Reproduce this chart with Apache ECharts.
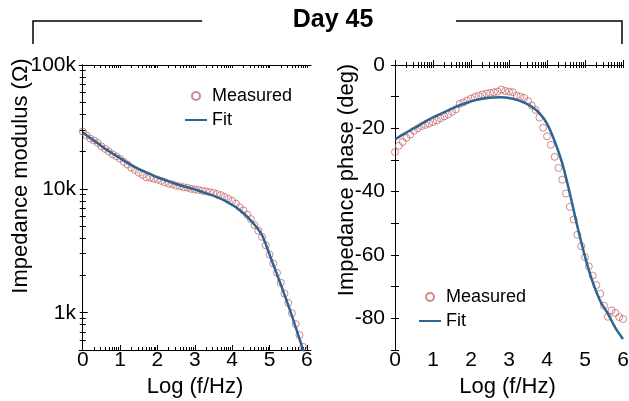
<!DOCTYPE html>
<html>
<head>
<meta charset="utf-8">
<title>Day 45</title>
<script src="https://cdn.jsdelivr.net/npm/echarts@6/dist/echarts.min.js"></script>
<style>
  html, body { margin: 0; padding: 0; background: #fff; }
  #chart { width: 629px; height: 401px; }
</style>
</head>
<body>
<div id="chart"></div>
<script>
// log10 of frequency for the measured points (1 Hz .. 1 MHz, 10 per decade)
const logFreqMeasured = [
  0.0, 0.1, 0.2, 0.3, 0.4, 0.5, 0.6, 0.7, 0.8, 0.9,
  1.0, 1.1, 1.2, 1.3, 1.4, 1.5, 1.6, 1.7, 1.8, 1.9,
  2.0, 2.1, 2.2, 2.3, 2.4, 2.5, 2.6, 2.7, 2.8, 2.9,
  3.0, 3.1, 3.2, 3.3, 3.4, 3.5, 3.6, 3.7, 3.8, 3.9,
  4.0, 4.1, 4.2, 4.3, 4.4, 4.5, 4.6, 4.7, 4.8, 4.9,
  5.0, 5.1, 5.2, 5.3, 5.4, 5.5, 5.6, 5.7, 5.8, 5.9, 6.0
];
// |Z| in ohm, measured
const modulusMeasured = [
  29000, 27000, 25500, 24600, 23500, 22000, 21000, 20000, 19000, 18300,
  17500, 16500, 15700, 14800, 14200, 13500, 13000, 12400, 12300, 12100,
  11900, 11600, 11300, 11000, 10900, 10600, 10500, 10300, 10200, 10000,
  9900, 9800, 9650, 9550, 9400, 9300, 9100, 8900, 8600, 8300,
  8000, 7600, 7100, 6700, 6200, 5700, 5100, 4600, 4100, 3500,
  2950, 2500, 2100, 1750, 1430, 1200, 990, 810, 660, 530, 430
];
// phase in degrees, measured
const phaseMeasured = [
  -27.5, -25.5, -24.3, -23.0, -22.0, -20.8, -20.0, -19.3, -18.9, -18.5,
  -18.0, -17.5, -16.8, -16.2, -15.6, -14.8, -14.0, -12.3, -11.8, -11.2,
  -10.6, -10.1, -9.7, -9.3, -9.0, -8.8, -8.6, -8.4, -7.8, -8.2,
  -8.4, -8.6, -9.6, -10.0, -10.4, -11.4, -12.8, -14.2, -16.6, -19.8,
  -22.5, -25.2, -29.0, -32.5, -36.2, -40.6, -44.8, -48.8, -53.6, -57.2,
  -60.7, -63.6, -66.5, -69.5, -72.2, -76.0, -79.5, -77.5, -78.3, -79.6, -80.2
];

// fitted model, sampled every 0.2 decade
const logFreqFit = [
  0.0, 0.2, 0.4, 0.6, 0.8, 1.0, 1.2, 1.4, 1.6, 1.8,
  2.0, 2.2, 2.4, 2.6, 2.8, 3.0, 3.2, 3.4, 3.6, 3.8,
  4.0, 4.2, 4.4, 4.6, 4.8, 5.0, 5.2, 5.4, 5.6, 5.8, 6.0
];
const modulusFit = [
  28500, 25700, 23400, 21100, 19300, 17700, 16200, 15000, 14000, 13200,
  12400, 11800, 11200, 10700, 10300, 9900, 9440, 9020, 8550, 8040,
  7410, 6760, 5960, 5130, 4220, 2950, 2040, 1400, 944, 617, 398
];
const phaseFit = [
  -23.5, -22.0, -20.6, -19.3, -17.8, -16.5, -15.4, -14.3, -13.2, -12.3,
  -11.5, -10.9, -10.5, -10.3, -10.2, -10.4, -11.0, -11.9, -13.2, -15.2,
  -18.5, -24.0, -31.0, -40.5, -51.0, -60.5, -68.5, -74.5, -78.5, -83.0, -86.5
];

// axis ticks
const xMajorTicks = [0, 1, 2, 3, 4, 5, 6];
const modulusLabels = [1000, 10000, 100000];
const modulusMinorTicks = [
  600, 700, 800, 900,
  2000, 3000, 4000, 5000, 6000, 7000, 8000, 9000,
  20000, 30000, 40000, 50000, 60000, 70000, 80000, 90000
];

const xMinorTicks = [];
for (let d = 0; d < 6; d++) {
  for (let k = 2; k <= 9; k++) xMinorTicks.push(d + Math.log10(k));
}

const font = 'Liberation Sans, Arial, sans-serif';
const measuredColor = '#c46a6a';
const fitColor = '#2d6491';
const black = '#000';
const tickFontSize = 21;

function xAxesFor(gridIndex, min, max) {
  return [
    {
      type: 'value', gridIndex, min, max, position: 'bottom',
      axisLine: { lineStyle: { color: black, width: 1 } },
      axisTick: { inside: true, length: 5, customValues: xMajorTicks, lineStyle: { color: black } },
      axisLabel: { customValues: xMajorTicks, fontSize: tickFontSize, color: black, fontFamily: font, margin: 0 },
      splitLine: { show: false },
      name: 'Log (f/Hz)', nameLocation: 'middle', nameGap: 20,
      nameTextStyle: { fontSize: 22, color: black, fontFamily: font }
    },
    {
      type: 'value', gridIndex, min, max, position: 'bottom',
      axisLine: { show: false },
      axisTick: { inside: true, length: 3, customValues: xMinorTicks, lineStyle: { color: black } },
      axisLabel: { show: false },
      splitLine: { show: false }
    },
    {
      type: 'value', gridIndex, min, max, position: 'top',
      axisLine: { lineStyle: { color: black, width: 1 } },
      axisTick: { inside: true, length: 3, customValues: xMajorTicks.concat(xMinorTicks), lineStyle: { color: black } },
      axisLabel: { show: false },
      splitLine: { show: false }
    }
  ];
}

const chart = echarts.init(document.getElementById('chart'));

chart.setOption({
  animation: false,
  backgroundColor: '#fff',
  textStyle: { fontFamily: font },
  grid: [
    { left: 79, top: 65, width: 232, height: 285, outerBoundsMode: 'none' },
    { left: 392, top: 65, width: 231, height: 285, outerBoundsMode: 'none' }
  ],
  xAxis: xAxesFor(0, -0.1, 6.11).concat(xAxesFor(1, -0.08, 6)),
  yAxis: [
    {
      type: 'log', gridIndex: 0, min: 500, max: 100000, position: 'left',
      axisLine: { lineStyle: { color: black, width: 1 } },
      axisTick: { inside: true, length: 5, customValues: modulusLabels, lineStyle: { color: black } },
      axisLabel: {
        customValues: modulusLabels, fontSize: tickFontSize, color: black, fontFamily: font, margin: 3,
        formatter: v => (v >= 1000 ? (v / 1000) + 'k' : String(v))
      },
      splitLine: { show: false }
    },
    {
      type: 'log', gridIndex: 0, min: 500, max: 100000, position: 'left',
      axisLine: { show: false },
      axisTick: { inside: true, length: 3, customValues: modulusMinorTicks, lineStyle: { color: black } },
      axisLabel: { show: false },
      splitLine: { show: false }
    },
    {
      type: 'log', gridIndex: 0, min: 500, max: 100000, position: 'right',
      axisLine: { lineStyle: { color: black, width: 1 } },
      axisTick: { inside: true, length: 3, customValues: modulusLabels.concat(modulusMinorTicks), lineStyle: { color: black } },
      axisLabel: { show: false },
      splitLine: { show: false }
    },
    {
      type: 'value', gridIndex: 1, min: -90, max: 0, interval: 10, position: 'left',
      axisLine: { lineStyle: { color: black, width: 1 } },
      axisTick: { inside: true, length: 4, lineStyle: { color: black } },
      axisLabel: {
        fontSize: tickFontSize, color: black, fontFamily: font, margin: 7,
        formatter: v => (v % 20 === 0 ? String(v) : '')
      },
      splitLine: { show: false }
    },
    {
      type: 'value', gridIndex: 1, min: -90, max: 0, interval: 10, position: 'right',
      axisLine: { lineStyle: { color: black, width: 1 } },
      axisTick: { inside: true, length: 4, lineStyle: { color: black } },
      axisLabel: { show: false },
      splitLine: { show: false }
    }
  ],
  legend: [
    {
      left: 184, top: 87, orient: 'vertical', padding: 0,
      itemWidth: 22, itemHeight: 8, itemGap: 6, selectedMode: false,
      textStyle: { fontSize: 18, color: black, fontFamily: font },
      data: ['Measured', { name: 'Fit', itemStyle: { opacity: 0 } }]
    },
    {
      left: 418, top: 288, orient: 'vertical', padding: 0,
      itemWidth: 22, itemHeight: 8, itemGap: 6, selectedMode: false,
      textStyle: { fontSize: 18, color: black, fontFamily: font },
      data: ['Measured', { name: 'Fit', itemStyle: { opacity: 0 } }]
    }
  ],
  graphic: [
    {
      type: 'text', x: 333, y: 20,
      style: { text: 'Day 45', font: 'bold 25px ' + font, fill: black, align: 'center', verticalAlign: 'middle' }
    },
    {
      type: 'polyline', shape: { points: [[33, 44], [33, 21], [202, 21]] },
      style: { stroke: black, lineWidth: 1.5, fill: null }
    },
    {
      type: 'polyline', shape: { points: [[456, 21], [622, 21], [622, 44]] },
      style: { stroke: black, lineWidth: 1.5, fill: null }
    },
    {
      type: 'text', x: 21, y: 176, rotation: Math.PI / 2,
      style: { text: 'Impedance modulus (Ω)', font: '22px ' + font, fill: black, align: 'center', verticalAlign: 'middle' }
    },
    {
      type: 'text', x: 347, y: 180, rotation: Math.PI / 2,
      style: { text: 'Impedance phase (deg)', font: '22px ' + font, fill: black, align: 'center', verticalAlign: 'middle' }
    }
  ],
  series: [
    {
      name: 'Measured', type: 'scatter', xAxisIndex: 0, yAxisIndex: 0,
      data: logFreqMeasured.map((x, i) => [x, modulusMeasured[i]]),
      symbol: 'circle', symbolSize: 7, z: 2,
      itemStyle: { color: 'rgba(255,255,255,0)', borderColor: measuredColor, borderWidth: 1 }
    },
    {
      name: 'Fit', type: 'line', xAxisIndex: 0, yAxisIndex: 0,
      data: logFreqFit.map((x, i) => [x, modulusFit[i]]),
      symbol: 'none', smooth: 0.3, z: 3,
      lineStyle: { color: fitColor, width: 2.5 }, itemStyle: { color: fitColor }
    },
    {
      name: 'Measured', type: 'scatter', xAxisIndex: 3, yAxisIndex: 3,
      data: logFreqMeasured.map((x, i) => [x, phaseMeasured[i]]),
      symbol: 'circle', symbolSize: 7, z: 2,
      itemStyle: { color: 'rgba(255,255,255,0)', borderColor: measuredColor, borderWidth: 1 }
    },
    {
      name: 'Fit', type: 'line', xAxisIndex: 3, yAxisIndex: 3,
      data: logFreqFit.map((x, i) => [x, phaseFit[i]]),
      symbol: 'none', smooth: 0.3, z: 3,
      lineStyle: { color: fitColor, width: 2.5 }, itemStyle: { color: fitColor }
    }
  ]
});
</script>
</body>
</html>
